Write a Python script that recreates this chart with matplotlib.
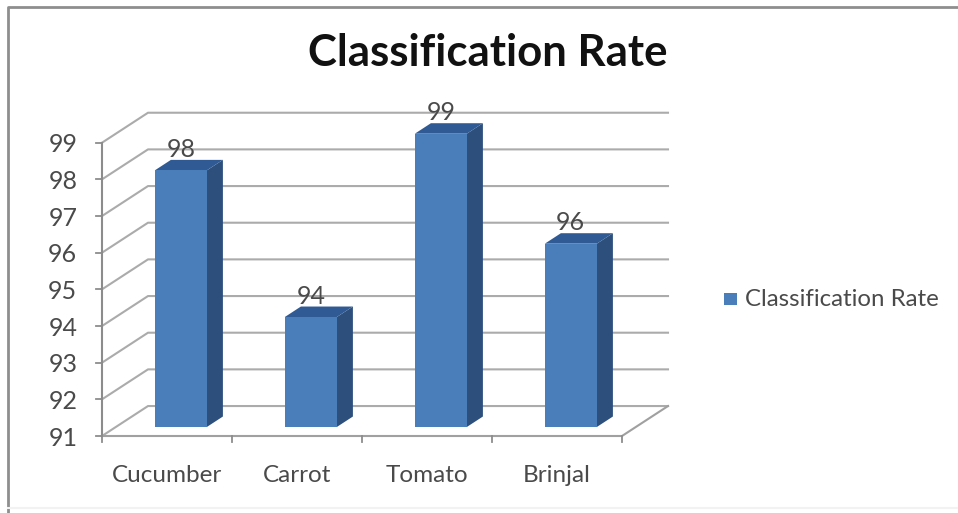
"""Classification rate per vegetable, drawn as a pseudo-3D column chart."""

import matplotlib
matplotlib.use("Agg")
import matplotlib.pyplot as plt
from matplotlib.lines import Line2D
from matplotlib.patches import Polygon, Rectangle

categories = ["Cucumber", "Carrot", "Tomato", "Brinjal"]
values = [98, 94, 99, 96]
y_ticks = [91, 92, 93, 94, 95, 96, 97, 98, 99]
series_name = "Classification Rate"
title = "Classification Rate"

W, H = 958, 513
Y_MIN, Y_MAX = y_ticks[0], y_ticks[-1]

# depth direction of the floor, in data units per full depth
DEPTH_X = 46 / 130
DEPTH_Y = 30 / 36.7
BAR_WIDTH = 0.40
BAR_NEAR = 0.30
BAR_FAR = 0.65

FRONT = "#4A7EBB"
SIDE = "#2C4F7C"
TOP = "#2F5A94"
GRID = "#ABABAB"
TEXT = "#4A4A4A"

plt.rcParams["font.family"] = ["Lato", "DejaVu Sans"]

fig = plt.figure(figsize=(W / 100, H / 100), dpi=100, facecolor="white")
ax = fig.add_axes([102 / W, 1 - 436 / H, 520 / W, (436 - 142.7) / H])
ax.set_xlim(0, len(categories))
ax.set_ylim(Y_MIN, Y_MAX)
ax.axis("off")


def proj(x, y, depth=0.0):
    return x + depth * DEPTH_X, y + depth * DEPTH_Y


def line(points, color=GRID, lw=1.5):
    xs, ys = zip(*points)
    ax.add_line(Line2D(xs, ys, color=color, lw=lw, clip_on=False, zorder=1))


# grid on back wall and its slant on the side wall
n = len(categories)
for t in y_ticks:
    line([proj(0, t), proj(0, t, 1), proj(n, t, 1)])
    line([(0, t), (-0.05, t)], color="#8C8C8C", lw=1.3)
    ax.text(-0.19, t - 0.06, str(t), ha="right", va="center", fontsize=18, color=TEXT)

# floor front edge, right edge and y axis
line([(0, Y_MIN), (n, Y_MIN), proj(n, Y_MIN, 1)], color="#A0A0A0")
line([(0, Y_MIN), (0, Y_MAX)], color="#8C8C8C")

for i in range(n + 1):
    line([(i, Y_MIN), (i, Y_MIN - 0.17)], color="#8C8C8C", lw=1.3)

for i, cat in enumerate(categories):
    ax.text(i + 0.5, Y_MIN - 1.07, cat, ha="center", va="center", fontsize=17.5, color=TEXT)

for i, val in enumerate(values):
    left = i + 0.5 - BAR_WIDTH / 2
    right = left + BAR_WIDTH
    base = Y_MIN
    fl = proj(left, base, BAR_NEAR)
    fr = proj(right, base, BAR_NEAR)
    tl = proj(left, val, BAR_NEAR)
    tr = proj(right, val, BAR_NEAR)
    br = proj(right, base, BAR_FAR)
    ttr = proj(right, val, BAR_FAR)
    ttl = proj(left, val, BAR_FAR)
    ax.add_patch(Polygon([fr, br, ttr, tr], fc=SIDE, ec="none", zorder=3, clip_on=False))
    ax.add_patch(Polygon([tl, tr, ttr, ttl], fc=TOP, ec="none", zorder=3, clip_on=False))
    ax.add_patch(Polygon([fl, fr, tr, tl], fc=FRONT, ec="none", zorder=4, clip_on=False))
    cx, _ = proj(i + 0.5, val, BAR_NEAR)
    _, top_y = proj(i + 0.5, val, BAR_FAR)
    ax.text(cx, top_y - 0.03, str(val), ha="center", va="bottom", fontsize=18,
            color=TEXT, zorder=5, clip_on=False)

# outer chart frame, in pixel coords
fig.add_artist(Line2D([8 / W, 8 / W, 1], [0, 1 - 7 / H, 1 - 7 / H],
                      transform=fig.transFigure, color="#8E8E8E", lw=2))
fig.add_artist(Line2D([8 / W, 1], [1 - 508 / H, 1 - 508 / H],
                      transform=fig.transFigure, color="#F2F2F2", lw=1.5))

fig.text(488 / W, 1 - 53 / H, title, ha="center", va="center", fontsize=31.5,
         fontweight="bold", color="#111111")

# legend
fig.add_artist(Rectangle((724 / W, 1 - 305 / H), 13 / W, 12 / H, transform=fig.transFigure,
                         fc=FRONT, ec="none"))
fig.text(745 / W, 1 - 299 / H, series_name, ha="left", va="center", fontsize=17.3, color=TEXT)

fig.savefig("out.png", dpi=100, facecolor="white")
plt.close(fig)
